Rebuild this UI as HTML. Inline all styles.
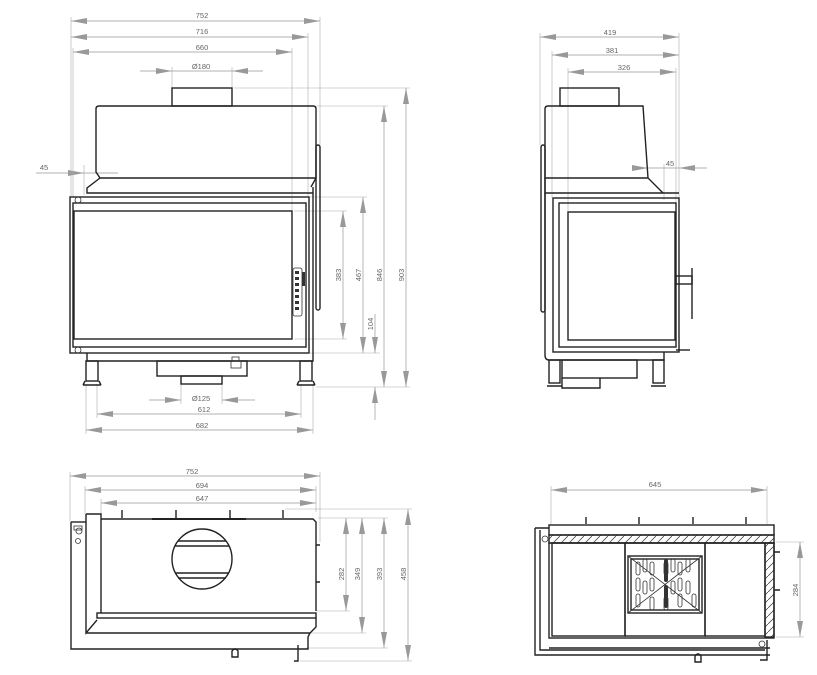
<!DOCTYPE html>
<html><head><meta charset="utf-8"><style>
html,body{margin:0;padding:0;background:#fff;}
svg{display:block;}
text{font-family:"Liberation Sans",sans-serif;font-size:7.5px;fill:#666;}
.o{fill:none;stroke:#222;stroke-width:1.4;}
.t{fill:none;stroke:#333;stroke-width:0.8;}
.d{fill:none;stroke:#999;stroke-width:0.7;}
.e{fill:none;stroke:#aaa;stroke-width:0.6;}
</style></head><body>
<svg width="817" height="675" viewBox="0 0 817 675" xmlns="http://www.w3.org/2000/svg">
<defs>
<marker id="a" viewBox="0 0 16 6" refX="16" refY="3" markerWidth="16" markerHeight="6" markerUnits="userSpaceOnUse" orient="auto-start-reverse"><path d="M0,0 L16,3 L0,6 z" fill="#999"/></marker>
<pattern id="h" width="8" height="8" patternUnits="userSpaceOnUse"><path d="M0,8 L8,0" stroke="#333" stroke-width="0.7"/></pattern>
</defs>

<!-- ============ FRONT VIEW ============ -->
<g class="d">
<line x1="71" y1="21" x2="320" y2="21" marker-start="url(#a)" marker-end="url(#a)"/>
<line x1="71" y1="37" x2="308" y2="37" marker-start="url(#a)" marker-end="url(#a)"/>
<line x1="73" y1="52" x2="292" y2="52" marker-start="url(#a)" marker-end="url(#a)"/>
<line x1="140" y1="71" x2="172" y2="71" marker-end="url(#a)"/>
<line x1="263" y1="71" x2="232" y2="71" marker-end="url(#a)"/>
<line x1="172" y1="71" x2="232" y2="71"/>
<line x1="343" y1="211" x2="343" y2="339" marker-start="url(#a)" marker-end="url(#a)"/>
<line x1="363" y1="197" x2="363" y2="353" marker-start="url(#a)" marker-end="url(#a)"/>
<line x1="384" y1="106" x2="384" y2="387" marker-start="url(#a)" marker-end="url(#a)"/>
<line x1="406" y1="88" x2="406" y2="387" marker-start="url(#a)" marker-end="url(#a)"/>
<line x1="375" y1="314" x2="375" y2="353" marker-end="url(#a)"/>
<line x1="375" y1="420" x2="375" y2="387" marker-end="url(#a)"/>
<line x1="149" y1="400" x2="181" y2="400" marker-end="url(#a)"/>
<line x1="255" y1="400" x2="222" y2="400" marker-end="url(#a)"/>
<line x1="97" y1="414" x2="301" y2="414" marker-start="url(#a)" marker-end="url(#a)"/>
<line x1="86" y1="430" x2="313" y2="430" marker-start="url(#a)" marker-end="url(#a)"/>
<line x1="36" y1="173" x2="84" y2="173" marker-end="url(#a)"/>
<line x1="84" y1="173" x2="118" y2="173"/>
</g>
<g class="e">
<line x1="71" y1="17" x2="71" y2="197"/><line x1="320" y1="17" x2="320" y2="145"/>
<line x1="308" y1="33" x2="308" y2="197"/><line x1="292" y1="48" x2="292" y2="211"/>
<line x1="73" y1="48" x2="73" y2="197"/>
<line x1="172" y1="67" x2="172" y2="88"/><line x1="232" y1="67" x2="232" y2="88"/>
<line x1="234" y1="88" x2="410" y2="88"/><line x1="316" y1="106" x2="388" y2="106"/>
<line x1="310" y1="197" x2="367" y2="197"/><line x1="294" y1="211" x2="347" y2="211"/>
<line x1="294" y1="339" x2="347" y2="339"/><line x1="310" y1="353" x2="380" y2="353"/>
<line x1="316" y1="387" x2="410" y2="387"/>
<line x1="181" y1="384" x2="181" y2="404"/><line x1="222" y1="384" x2="222" y2="404"/>
<line x1="97" y1="384" x2="97" y2="418"/><line x1="301" y1="384" x2="301" y2="418"/>
<line x1="86" y1="384" x2="86" y2="434"/><line x1="313" y1="384" x2="313" y2="434"/>
<line x1="84" y1="165" x2="84" y2="195"/>
</g>
<text x="202" y="18" text-anchor="middle">752</text>
<text x="202" y="34" text-anchor="middle">716</text>
<text x="202" y="50" text-anchor="middle">660</text>
<text x="201" y="69" text-anchor="middle">Ø180</text>
<text x="201" y="401" text-anchor="middle">Ø125</text>
<text x="204" y="412" text-anchor="middle">612</text>
<text x="202" y="428" text-anchor="middle">682</text>
<text x="44" y="170" text-anchor="middle">45</text>
<text transform="translate(341,275) rotate(-90)" text-anchor="middle">383</text>
<text transform="translate(361,275) rotate(-90)" text-anchor="middle">467</text>
<text transform="translate(382,275) rotate(-90)" text-anchor="middle">846</text>
<text transform="translate(404,275) rotate(-90)" text-anchor="middle">903</text>
<text transform="translate(373,324) rotate(-90)" text-anchor="middle">104</text>

<g class="o">
<rect x="172" y="88" width="60" height="18"/>
<path d="M99,106 H313 Q316,106 316,109 V178 L311,187 M99,106 Q96,106 96,109 V172 L100,178 H316"/>
<path d="M100,178 L87,188 V193 H313 V187"/>
<rect x="316" y="145" width="4" height="165" rx="2"/>
<rect x="70" y="197" width="239" height="156"/>
<rect x="73" y="203" width="233" height="144"/>
<rect x="74" y="211" width="218" height="128"/>
<path d="M87,353 V361 H313 V193 M309,361"/>
<rect x="86" y="361" width="12" height="20"/>
<rect x="300" y="361" width="12" height="20"/>
<path d="M83,385 H101 M297,385 H315"/>
<path d="M85,381 L83,385 M99,381 L101,385 M299,381 L297,385 M313,381 L315,385"/>
<rect x="157" y="361" width="90" height="15"/>
<rect x="181" y="376" width="41" height="8"/>
</g>
<g class="t">
<rect x="293" y="268" width="9" height="48" rx="2"/>
<rect x="232" y="357" width="7" height="4"/>
<rect x="231" y="361" width="10" height="7"/>
<circle cx="78" cy="200" r="3"/><circle cx="78" cy="350" r="3"/>
</g>
<g fill="#333"><rect x="295" y="271" width="4" height="3"/><rect x="295" y="277" width="4" height="3"/><rect x="295" y="283" width="4" height="3"/><rect x="295" y="289" width="4" height="3"/><rect x="295" y="295" width="4" height="3"/><rect x="295" y="301" width="4" height="3"/><rect x="295" y="307" width="4" height="3"/>
<rect x="302" y="272" width="3" height="14"/></g>

<!-- ============ SIDE VIEW ============ -->
<g class="d">
<line x1="540" y1="37" x2="679" y2="37" marker-start="url(#a)" marker-end="url(#a)"/>
<line x1="552" y1="55" x2="679" y2="55" marker-start="url(#a)" marker-end="url(#a)"/>
<line x1="568" y1="72" x2="676" y2="72" marker-start="url(#a)" marker-end="url(#a)"/>
<line x1="632" y1="168" x2="648" y2="168" marker-end="url(#a)"/>
<line x1="707" y1="168" x2="679" y2="168" marker-end="url(#a)"/>
<line x1="648" y1="168" x2="679" y2="168"/>
</g>
<g class="e">
<line x1="540" y1="33" x2="540" y2="145"/><line x1="679" y1="33" x2="679" y2="198"/>
<line x1="552" y1="51" x2="552" y2="198"/><line x1="676" y1="68" x2="676" y2="211"/>
<line x1="568" y1="68" x2="568" y2="211"/><line x1="664" y1="164" x2="664" y2="200"/>
</g>
<text x="610" y="35" text-anchor="middle">419</text>
<text x="612" y="53" text-anchor="middle">381</text>
<text x="624" y="70" text-anchor="middle">326</text>
<text x="670" y="166" text-anchor="middle">45</text>
<g class="o">
<rect x="560" y="88" width="59" height="18"/>
<path d="M548,106 H643 L648,178 L663,193 M548,106 Q545,106 545,109 V178 H648"/>
<path d="M545,178 V193 H679"/>
<rect x="541" y="145" width="4" height="167" rx="2"/>
<path d="M545,193 V355 Q545,360 549,360 H664 V352"/>
<rect x="553" y="198" width="126" height="154"/>
<rect x="559" y="203" width="117" height="144"/>
<rect x="568" y="212" width="107" height="128"/>
<rect x="676" y="276" width="16" height="8"/>
<line x1="692" y1="268" x2="692" y2="319"/>
<line x1="676" y1="350" x2="690" y2="350"/>
<rect x="549" y="360" width="11" height="23"/>
<rect x="653" y="360" width="11" height="23"/>
<path d="M547,386 H562 M651,386 H666"/>
<rect x="562" y="360" width="75" height="18"/>
<path d="M562,378 V388 H600 V378"/>
</g>

<!-- ============ PLAN VIEW LEFT ============ -->
<g class="d">
<line x1="70" y1="476" x2="320" y2="476" marker-start="url(#a)" marker-end="url(#a)"/>
<line x1="85" y1="490" x2="316" y2="490" marker-start="url(#a)" marker-end="url(#a)"/>
<line x1="101" y1="503" x2="316" y2="503" marker-start="url(#a)" marker-end="url(#a)"/>
<line x1="346" y1="518" x2="346" y2="611" marker-start="url(#a)" marker-end="url(#a)"/>
<line x1="362" y1="518" x2="362" y2="633" marker-start="url(#a)" marker-end="url(#a)"/>
<line x1="384" y1="518" x2="384" y2="648" marker-start="url(#a)" marker-end="url(#a)"/>
<line x1="408" y1="509" x2="408" y2="661" marker-start="url(#a)" marker-end="url(#a)"/>
</g>
<g class="e">
<line x1="70" y1="472" x2="70" y2="522"/><line x1="320" y1="472" x2="320" y2="542"/>
<line x1="85" y1="486" x2="85" y2="514"/><line x1="316" y1="486" x2="316" y2="512"/>
<line x1="101" y1="499" x2="101" y2="519"/>
<line x1="285" y1="509" x2="412" y2="509"/><line x1="318" y1="518" x2="388" y2="518"/>
<line x1="316" y1="611" x2="350" y2="611"/><line x1="310" y1="633" x2="366" y2="633"/>
<line x1="306" y1="648" x2="388" y2="648"/><line x1="300" y1="661" x2="412" y2="661"/>
</g>
<text x="192" y="474" text-anchor="middle">752</text>
<text x="202" y="488" text-anchor="middle">694</text>
<text x="202" y="501" text-anchor="middle">647</text>
<text transform="translate(344,574) rotate(-90)" text-anchor="middle">282</text>
<text transform="translate(360,574) rotate(-90)" text-anchor="middle">349</text>
<text transform="translate(382,574) rotate(-90)" text-anchor="middle">393</text>
<text transform="translate(406,574) rotate(-90)" text-anchor="middle">458</text>
<g class="o">
<path d="M122,510 V518 M176,510 V518 M230,510 V518 M283,510 V518"/>
<path d="M101,519 H313 L316,522 V611"/>
<path d="M86,514 H101 V613"/>
<path d="M86,514 V633 L97,620"/>
<rect x="97" y="613" width="219" height="5"/>
<path d="M316,618 V627 L310,633 H86"/>
<path d="M71,522 V649 H308 V637 L310,633"/>
<path d="M71,522 H86"/>
<circle cx="202" cy="559" r="30"/>
<path d="M178,541 H226 M175,546 H229 M175,573 H229 M178,578 H226"/>
<path d="M298,645 V661 H294"/>
<path d="M232,651 Q235,647 238,651 V657 H232 Z"/>
<path d="M316,545 H320 M316,582 H320"/>
</g>
<g class="t"><circle cx="79" cy="531" r="3"/><circle cx="78" cy="541" r="2.5"/><rect x="74" y="526" width="8" height="4"/></g>
<path d="M152,519 H246" stroke="#222" stroke-width="2"/>

<!-- ============ PLAN VIEW RIGHT ============ -->
<g class="d">
<line x1="551" y1="490" x2="767" y2="490" marker-start="url(#a)" marker-end="url(#a)"/>
<line x1="800" y1="542" x2="800" y2="637" marker-start="url(#a)" marker-end="url(#a)"/>
</g>
<g class="e">
<line x1="551" y1="486" x2="551" y2="524"/><line x1="767" y1="486" x2="767" y2="524"/>
<line x1="776" y1="542" x2="804" y2="542"/><line x1="776" y1="637" x2="804" y2="637"/>
</g>
<text x="655" y="487" text-anchor="middle">645</text>
<text transform="translate(798,590) rotate(-90)" text-anchor="middle">284</text>
<g class="o">
<path d="M586,517 V524 M639,517 V524 M693,517 V524 M746,517 V524"/>
<rect x="549" y="525" width="225" height="10"/>
<rect x="549" y="535" width="225" height="8" fill="url(#h)"/>
<rect x="765" y="543" width="9" height="94" fill="url(#h)"/>
<rect x="549" y="543" width="225" height="95"/>
<rect x="552" y="543" width="73" height="93"/>
<rect x="625" y="543" width="80" height="93"/>
<rect x="705" y="543" width="60" height="93"/>
<rect x="628" y="556" width="74" height="57"/>
<rect x="631" y="559" width="68" height="51"/>
<path d="M535,528 V655 H770 M540,530 V650 H765"/>
<path d="M535,528 H549 M549,648 H770"/>
<path d="M774,552 H780 M774,590 H780"/>
<path d="M767,640 V660 H760"/>
<path d="M695,656 Q698,652 701,656 V662 H695 Z"/>
</g>
<g class="t">
<path d="M628,613 L702,556 M628,556 L702,613"/>
<rect x="636" y="562" width="4" height="13" rx="2"/><rect x="643" y="559" width="4" height="13" rx="2"/><rect x="650" y="562" width="4" height="13" rx="2"/><rect x="664" y="562" width="4" height="13" rx="2"/><rect x="671" y="559" width="4" height="13" rx="2"/><rect x="678" y="562" width="4" height="13" rx="2"/><rect x="686" y="559" width="4" height="13" rx="2"/>
<rect x="636" y="578" width="4" height="13" rx="2"/><rect x="643" y="581" width="4" height="13" rx="2"/><rect x="650" y="578" width="4" height="13" rx="2"/><rect x="671" y="581" width="4" height="13" rx="2"/><rect x="678" y="578" width="4" height="13" rx="2"/><rect x="686" y="581" width="4" height="13" rx="2"/>
<rect x="636" y="594" width="4" height="13" rx="2"/><rect x="650" y="597" width="4" height="13" rx="2"/><rect x="664" y="597" width="4" height="13" rx="2"/><rect x="678" y="594" width="4" height="13" rx="2"/><rect x="692" y="594" width="4" height="13" rx="2"/>
<circle cx="545" cy="539" r="3"/><circle cx="762" cy="644" r="3"/>
</g>
<g fill="#333"><rect x="664" y="559" width="4" height="23" rx="2"/><rect x="664" y="585" width="4" height="23" rx="2"/></g>
</svg>
</body></html>
